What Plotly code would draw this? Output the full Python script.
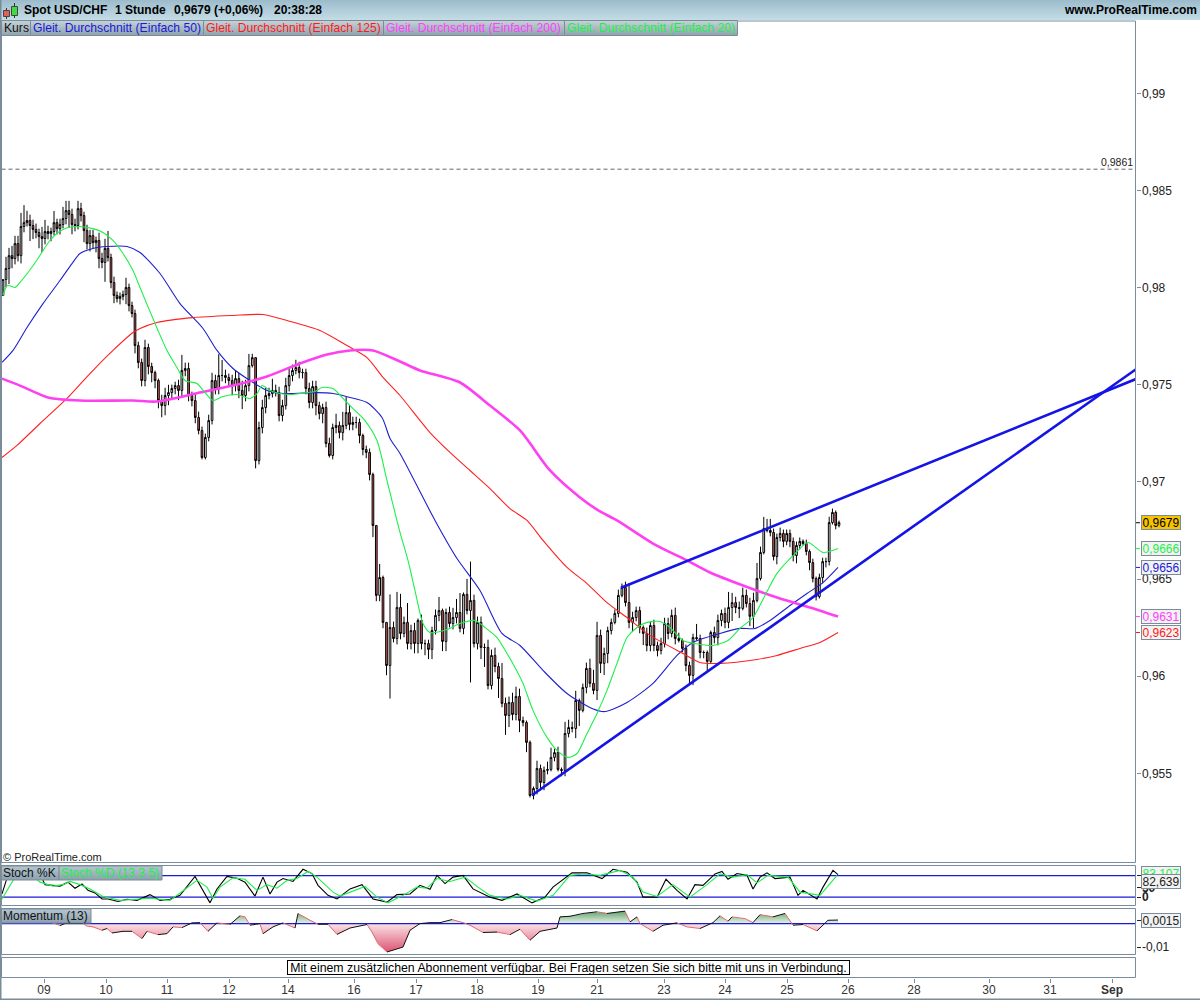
import numpy as np
import plotly.graph_objects as go

# ---- price data, in pips (price = pips / 10000) ----
first_open = 9796.0
close_a = [9804.2,9809.9,9816.5,9815,9822.7,9816.5,9831.5,9833.5,9834.6,9832,
           9830,9828.4,9826.3,9825.3,9828.9,9827.9,9828.9,9833.5,9830.4,9832.5,
           9835.6,9839.7,9837.7,9832.5,9832,9840.7,9837.1,9829.4,9822.7,9826.8,
           9823.2,9824.3,9815,9813,9820.2,9815.5,9802.7,9796,9794.4,9795.5,
           9796.5,9800.1,9790.8,9786.7,9770.2]
close_b = [9761.5,9752.2,9769.2,9759.4,9756.3,9752.2,9741.9,9739.3,9744.5,9746,
           9748.1,9749.6,9747.1,9757.4,9758.4,9744.5,9741.9,9733.2,9726.5,9712.6,
           9722.9,9731.6,9752.2,9748.1,9754.8,9754.8,9753.8,9752.2,9749.6,9753.2,
           9747.1,9744.5,9749.6,9759.9,9764,9711,9728,9738.3,9744.5,9745.5,
           9747.1,9746,9734.2,9739.3,9749.6,9754.8,9757.4,9758.9,9756.3,9756.3,
           9748.1,9740.9,9749.1,9739.3,9735.2,9738.3,9719.8,9713.6,9728,9729.1,
           9725.4,9729.1,9735.7,9729.6,9730.6,9730.6,9723.9,9716.7,9715.2,9703.8,
           9677.6,9641.6,9650.8,9627.7]
close_c = [9605.5,9625.1,9619.4,9635.4,9622,9627.7,9616.8,9623.5,9616.8,9628.7,
           9616.8,9616.8,9613.8,9623.5,9631.3,9633.8,9617.9,9632.8,9627.1,9630.2,
           9632.8,9624.6,9642.1,9633.8,9639,9616.8,9627.7,9614.8,9614.8,9595.2,
           9610.7,9605,9598.8,9586,9579.8,9586.5,9580.3,9589.6,9577.2,9576.2,
           9565.9,9538.6,9542.2,9552.5,9545.3,9551.5,9552,9558.2,9560.7,9552]
close_d = [9551.5,9570.5,9573.6,9573.1,9587.5,9582.4,9594.2,9604,9596.3,9592.7,
           9621,9606.6,9611.7,9623.5,9627.7,9632.3,9641.6,9645.7,9637.9,9627.7,
           9630.2,9633.8,9625.1,9622,9615.8,9626.1,9615.8,9613.2,9616.8,9627.1,
           9622,9631.3,9619.4,9618.4,9614.3,9605.5,9600.4,9619.9,9619.4,9612.2,
           9612.2,9607.6,9622.5,9619.9,9628.7,9632.3,9627.7,9635.4,9637.9,9635.4,
           9634.9,9641.6,9637.4,9630.8,9639,9650.3]
close_e = [9663.7,9676,9675,9674,9661.6,9671.4,9673.5,9669.4,9673.5,9669.4,
           9662.1,9667.3,9669.4,9668.3,9664.2,9658.5,9650.3,9641,9650.8,9659,
           9659,9679.1,9684.3,9677.6,9679.1]

# wick lengths above / below the body, in pips
upper_a = [0,6,4,5,4,4,7,9,5,3, 3,3,2,5,6,3,2,6,2,3, 6,5,5,3,3,4,3,2,3,3, 3,2,4,3,5,9,2,3,2,2, 2,5,2,2,2]
lower_a = [0,4,8,5,3,3,4,3,2,8, 5,3,6,7,3,3,4,2,3,3, 2,3,7,5,3,2,3,6,3,4, 3,5,5,3,10,2,3,4,2,3, 2,5,3,2,4]
upper_b = [2,2,4,2,2,1,1,3,4,4, 2,2,3,8,3,3,2,4,3,2, 2,3,4,3,11,8,3,2,3,4, 3,5,3,6,2,0,3,4,4,3,
           6,3,3,3,4,4,3,4,3,2, 2,3,3,3,2,2,3,3,2,6, 2,7,8,4,3,3,2,1,2,2, 1,0,7,1]
lower_b = [3,3,3,4,5,4,4,6,5,5, 3,3,5,3,3,3,3,3,2,1, 1,2,2,3,3,3,3,3,5,3, 4,7,3,3,1,4,2,3,3,2,
           2,2,3,3,2,3,3,2,3,3, 3,3,3,5,3,5,2,1,2,3, 3,4,2,3,3,3,4,3,3,3, 6,3,3,3]
upper_c = [0,17,3,8,7,3,10,3,4,1, 3,2,2,2,3,7,1,2,3,5, 7,10,1,8,20,3,3,3,2,4, 3,4,2,8,3,3,5,5,4,2, 1,1,1,4,2,2,4,5,2,3]
lower_c = [5,17,2,3,3,2,3,3,5,5, 3,6,5,5,2,3,5,5,2,3, 3,2,3,2,37,2,3,6,10,2, 2,3,10,2,10,6,3,3,6,2, 5,1,2,3,4,4,2,1,2,1]
upper_d = [1,6,4,3,5,1,2,3,5,7, 7,3,3,2,2,2,3,2,3,10, 3,2,2,1,3,2,3,2,3,3, 3,3,4,3,1,2,2,2,7,2, 1,1,1,3,3,2,3,8,5,3, 3,4,3,3,4,8]
lower_d = [3,3,2,2,5,8,1,3,2,2, 5,5,6,5,2,1,2,1,2,3, 5,2,3,6,3,3,3,3,2,2, 3,2,3,1,2,3,5,5,1,3, 3,5,1,3,4,3,3,3,7,3, 5,1,2,5,6,1]
upper_e = [3,6,5,6,2,2,3,2,2,2, 2,2,2,1,2,1,2,1,2,2, 2,3,2,1,1]
lower_e = [1,1,1,2,2,4,2,3,2,3, 3,4,2,1,2,4,2,2,1,3, 3,2,1,2,1]

# chart-time span of each block of candles (1 unit = 1/61.5 of a session)
block_spans = [(3,135),(138.3,383),(386.5,558),(561.5,757),(760.5,839)]

# moving averages (chart time, pips)
ma20_t = [3,7,10,15,20,28,38,43,50,58,68,80,93,103,113,123,133,140,158,167,177,185,197,205,213,223,237,250,257,262,270,280,293,307,315,322,333,343,353,365,377,387,400,408,415,423,430,447,460,475,485,497,507,515,523,533,547,557,568,577,587,597,607,617,627,637,647,660,670,683,695,713,728,740,753,765,777,793,808,823,838]
ma20_v = [9796,9801,9801,9800.1,9802.7,9807.8,9815,9819.1,9824.3,9828.4,9831,9831.5,9830.4,9828.4,9824.3,9817.6,9808.8,9800.1,9778,9767.7,9758.9,9752.2,9750.7,9746,9741.9,9744,9745,9743,9745.5,9749.6,9747.1,9745.5,9745,9746,9746.6,9748.6,9748.1,9743,9737.8,9731.6,9721.3,9700.7,9674,9659.6,9644.1,9627.1,9622.5,9624,9627.1,9628.7,9625.1,9619.9,9611.7,9604.5,9596.3,9582.4,9568.5,9561.8,9558.2,9560.2,9570.5,9580.8,9592.7,9606.6,9619.9,9625.1,9627.7,9628.2,9625.1,9618.4,9616.8,9615.8,9618.4,9624.6,9630.2,9641.6,9652.9,9662.1,9668.8,9663.7,9665.7]
ma50_t = [2,13,27,43,60,72,80,93,107,127,140,160,180,203,217,233,250,267,283,317,333,350,367,382,390,400,435,457,480,502,520,543,567,592,605,627,653,677,693,720,740,755,770,790,807,823,838]
ma50_v = [9761.5,9767.7,9779.5,9791.8,9803.7,9812.4,9817.6,9820.2,9821.2,9821.2,9818.1,9807.3,9791.8,9779,9767.7,9758.4,9752.2,9747.1,9745.5,9746,9745.5,9743.5,9740.9,9733.2,9722.4,9714.6,9680.2,9660.6,9644.1,9622,9615.8,9603,9591.1,9583.4,9581.8,9586.5,9596.3,9610.7,9617.4,9622,9624.6,9624.6,9628.7,9636.4,9642.6,9648.2,9656]
ma125_t = [2,17,40,67,90,113,133,140,157,193,233,263,287,320,347,367,383,400,430,450,470,490,510,527,543,567,587,607,627,650,683,700,720,757,777,800,820,838]
ma125_v = [9712.6,9718.8,9730.1,9743,9755.8,9767.7,9776.9,9779,9782.1,9784.6,9785.7,9786.2,9783.1,9778,9770.2,9764,9753.8,9744.5,9725.4,9715.2,9705.9,9696.6,9686.3,9680.2,9669.9,9656,9647.7,9637.9,9630.2,9621,9611.7,9607.1,9606.6,9608.6,9610.7,9614.3,9617.4,9622.5]
ma200_t = [2,20,48,80,133,157,200,233,267,300,327,350,373,400,420,460,490,520,550,580,600,617,653,687,710,743,777,810,838]
ma200_v = [9753.2,9749.6,9743.5,9741.9,9741.9,9741.4,9746,9749.6,9754.3,9761,9765.6,9767.7,9767.7,9762,9757.4,9751.2,9739.3,9726.5,9705.9,9692,9684.8,9680.2,9668.3,9659.6,9653.4,9646.7,9640.5,9635.4,9630.7]

# trend lines and reference level
trend_upper_t, trend_upper_v = [621,1136], [9645.5,9753]
trend_lower_t, trend_lower_v = [532,1136], [9538.7,9758]
level_value = 0.9861

# stochastic (chart time, percent)
stoch_k_t = [2,5,10,30,40,45,60,68,75,82,88,95,102,108,118,127,137,150,160,170,180,195,203,210,217,227,237,245,255,263,270,277,283,293,303,312,318,328,337,350,362,373,387,397,410,420,430,437,445,453,463,473,490,502,517,532,545,553,572,587,602,613,627,637,643,657,666,677,687,695,703,715,722,728,737,747,753,760,767,775,790,798,803,817,823,833,838]
stoch_k_v = [29,57,100,95,85,55,51,62,45,57,39,32,15,15,8,14,11,27,11,14,25,78,39,4,43,78,73,62,23,76,29,62,72,64,98,86,53,25,15,43,55,15,6,27,29,53,42,81,58,76,81,43,20,11,29,4,20,48,88,88,72,98,90,62,20,20,70,39,15,55,53,85,92,70,86,81,43,76,88,72,76,25,39,15,48,95,83]
stoch_d_t = [2,10,15,25,40,53,63,70,80,90,103,120,137,150,170,183,197,207,213,220,233,245,257,267,277,287,297,308,317,333,340,365,377,388,403,417,427,437,450,465,478,490,507,520,537,553,570,583,600,620,633,643,657,673,690,707,720,733,747,757,768,788,800,820,837]
stoch_d_v = [15,53,76,100,62,51,55,64,55,43,22,11,15,17,11,39,67,48,17,48,74,70,39,55,45,67,72,92,76,34,23,50,20,4,25,48,45,72,64,76,48,25,15,25,9,25,81,85,81,95,76,34,22,55,20,55,85,76,83,60,81,76,34,25,81]

# momentum (chart time, thousandths)
momentum_t = [2,20,40,55,60,65,83,87,93,102,107,112,123,132,142,147,158,167,173,182,192,200,208,217,230,240,245,250,260,263,273,283,295,298,310,318,328,337,350,367,372,378,387,403,410,420,430,440,452,463,470,483,497,510,520,530,540,557,560,570,583,597,607,625,630,637,640,653,663,677,687,700,713,720,728,732,745,753,760,773,785,793,803,817,828,838]
momentum_m = [3,4,2,0,-.85,0,0,-1.1,-1.4,-2.85,-2.1,-4,-3.3,-3.3,-6.4,-3.3,-4.7,-4.3,-1.4,-1.7,.3,.4,-3.3,.3,-.4,3.3,2.85,-.7,0,-4.3,-1.4,.3,-1.9,4.3,1.4,-.3,-.3,-4.6,-1.9,-.4,-3.6,-8.6,-12.1,-10,-2.85,0,.4,.4,1.7,.4,-.7,-3.8,-3.6,-4.7,-2.4,-7.1,-3.3,-1.9,2.85,3.1,4.3,5,4.3,5.3,.7,2.85,0,-3.3,-.7,.3,-1.4,-2.1,.4,3.3,1,2.85,2.1,.4,3.8,2.85,4.3,-.7,-.4,-3.1,1.4,1.5]

# axes
x_tick_vals = [44,106,167,229,288,354,416,477,538,597,664,725,787,848,914,989,1050,1112]
x_tick_text = ["09","10","11","12","14","16","17","18","19","21","23","24","25","26","28","30","31","<b>Sep</b>"]
price_tick_vals = [0.955,0.96,0.965,0.97,0.975,0.98,0.985,0.99]
price_tick_text = ["0,955","0,96","0,965","0,97","0,975","0,98","0,985","0,99"]

# right-hand value labels: text, price, text colour, background
price_tags = [("0,9679",0.9679,"#000000","#f7c300"),
              ("0,9666",0.96657,"#1cf04a","#f2f2f2"),
              ("0,9656",0.9656,"#1a1ad8","#f2f2f2"),
              ("0,9631",0.96307,"#ff40ff","#f2f2f2"),
              ("0,9623",0.96225,"#ff1a1a","#f2f2f2")]
legend_main = [("Kurs",1.5,30.5,"#111111"),
               ("Gleit. Durchschnitt (Einfach 50)",30.5,203.5,"#1a1ad8"),
               ("Gleit. Durchschnitt (Einfach 125)",203.5,383.5,"#ff1a1a"),
               ("Gleit. Durchschnitt (Einfach 200)",383.5,564.5,"#ff40ff"),
               ("Gleit. Durchschnitt (Einfach 20)",564.5,737.5,"#1cf04a")]
notice = "Mit einem zusätzlichen Abonnement verfügbar. Bei Fragen setzen Sie sich bitte mit uns in Verbindung."

# ---- assemble ----
closes = close_a + close_b + close_c + close_d + close_e
uppers = upper_a + upper_b + upper_c + upper_d + upper_e
lowers = lower_a + lower_b + lower_c + lower_d + lower_e
blocks = [close_a, close_b, close_c, close_d, close_e]
assert len(closes) == len(uppers) == len(lowers), (len(closes), len(uppers), len(lowers))
bar_t = np.concatenate([np.linspace(a, b, len(c)) for (a, b), c in zip(block_spans, blocks)])
c = np.array(closes)
o = np.concatenate([[first_open], c[:-1]])
h = np.maximum(o, c) + np.array(uppers)
l = np.minimum(o, c) - np.array(lowers)

FONT = "Liberation Sans"
FRAME = "#7a8c99"

def xp(px):
    return px / 1200
def yp(py):
    return 1 - py / 1000

fig = go.Figure()
fig.add_trace(go.Candlestick(
    x=bar_t, open=o/1e4, high=h/1e4, low=l/1e4, close=c/1e4,
    whiskerwidth=0,
    increasing=dict(fillcolor="#ffffff", line=dict(color="#000000", width=1)),
    decreasing=dict(fillcolor="#e2605c", line=dict(color="#000000", width=1)),
    xaxis="x", yaxis="y", hoverinfo="skip"))

for t, v, col, w in [(ma50_t, ma50_v, "#2020d0", 1.1),
                     (ma125_t, ma125_v, "#ff2020", 1.1),
                     (ma200_t, ma200_v, "#ff40f0", 2.6),
                     (ma20_t, ma20_v, "#1cf04a", 1.1)]:
    fig.add_trace(go.Scatter(x=t, y=np.array(v)/1e4, mode="lines",
                             line=dict(color=col, width=w, shape="spline", smoothing=0.7),
                             hoverinfo="skip"))
for t, v in [(trend_upper_t, trend_upper_v), (trend_lower_t, trend_lower_v)]:
    fig.add_trace(go.Scatter(x=t, y=np.array(v)/1e4, mode="lines",
                             line=dict(color="#1414e6", width=2.6), hoverinfo="skip"))
fig.add_trace(go.Scatter(x=[1.5, 1135.5], y=[level_value]*2, mode="lines",
                         line=dict(color="#666666", width=1, dash="4px,3px"), hoverinfo="skip"))

# stochastic panel
for val in (80, 20):
    fig.add_trace(go.Scatter(x=[1.5, 1135.5], y=[val, val], mode="lines", yaxis="y2",
                             line=dict(color="#1a1ad8", width=1.2), hoverinfo="skip"))
fig.add_trace(go.Scatter(x=stoch_k_t, y=stoch_k_v, mode="lines", yaxis="y2",
                         line=dict(color="#000000", width=1.1), hoverinfo="skip"))
fig.add_trace(go.Scatter(x=stoch_d_t, y=stoch_d_v, mode="lines", yaxis="y2",
                         line=dict(color="#1cf04a", width=1.1), hoverinfo="skip"))

# momentum panel
mom = np.array(momentum_m) / 1000
grid = np.arange(momentum_t[0], momentum_t[-1] + 0.5, 1.0)
fine = np.interp(grid, momentum_t, mom)
fig.add_trace(go.Scatter(x=grid, y=np.minimum(fine, 0), mode="lines", yaxis="y3",
                         line=dict(width=0), fill="tozeroy", hoverinfo="skip",
                         fillgradient=dict(type="vertical", start=-0.0125, stop=0,
                                           colorscale=[[0, "#dc4f70"], [1, "#fbe3e6"]])))
fig.add_trace(go.Scatter(x=grid, y=np.maximum(fine, 0), mode="lines", yaxis="y3",
                         line=dict(width=0), fill="tozeroy", hoverinfo="skip",
                         fillgradient=dict(type="vertical", start=0, stop=0.0055,
                                           colorscale=[[0, "#e8f3e8"], [1, "#5f9f6a"]])))
fig.add_trace(go.Scatter(x=[1.5, 1135.5], y=[0, 0], mode="lines", yaxis="y3",
                         line=dict(color="#1a1ad8", width=1.2), hoverinfo="skip"))
rx, ry, fx, fy = [], [], [], []
for i in range(len(mom) - 1):
    tgt_x, tgt_y = (rx, ry) if mom[i+1] >= mom[i] else (fx, fy)
    tgt_x += [momentum_t[i], momentum_t[i+1], None]
    tgt_y += [mom[i], mom[i+1], None]
fig.add_trace(go.Scatter(x=fx, y=fy, mode="lines", yaxis="y3",
                         line=dict(color="#e06a6a", width=1), hoverinfo="skip"))
fig.add_trace(go.Scatter(x=rx, y=ry, mode="lines", yaxis="y3",
                         line=dict(color="#111111", width=1), hoverinfo="skip"))
# the bottom panel holds the shared time axis
fig.add_trace(go.Scatter(x=[1.5], y=[0.5], mode="markers", yaxis="y4",
                         marker=dict(opacity=0), hoverinfo="skip"))

# ---- shapes ----
shapes = []
def rect(x0, y0, x1, y1, fill=None, line=None, lw=1, layer="above"):
    shapes.append(dict(type="rect", xref="paper", yref="paper",
                       x0=xp(x0), x1=xp(x1), y0=yp(y0), y1=yp(y1),
                       fillcolor=fill or "rgba(0,0,0,0)", layer=layer,
                       line=dict(color=line or "rgba(0,0,0,0)", width=lw if line else 0)))

def lerp(c0, c1, f):
    a = [int(c0[i:i+2], 16) for i in (1, 3, 5)]
    b = [int(c1[i:i+2], 16) for i in (1, 3, 5)]
    return "rgb(%d,%d,%d)" % tuple(round(p + (q - p) * f) for p, q in zip(a, b))

def gradient_box(x0, y0, x1, y1, top, bottom, border=None):
    n = int(y1 - y0)
    for k in range(n):
        rect(x0, y0 + k, x1, y0 + k + 1, fill=lerp(top, bottom, k / max(n - 1, 1)))
    if border:
        rect(x0, y0, x1, y1, line=border)

# panel frames
rect(1.5, 21, 1135.5, 862.5, line=FRAME, layer="above")
rect(1.5, 865.5, 1135.5, 905.5, line=FRAME)
rect(1.5, 908.5, 1135.5, 954.5, line=FRAME)
rect(1.5, 957.5, 1135.5, 977.5, line=FRAME)
# header
gradient_box(0, 0, 1200, 20, "#9dbccb", "#c3dce6")
gradient_box(1.5, 20, 737.5, 35.5, "#c6d3d9", "#93a6b0")
for label, x0, x1, col in legend_main:
    rect(x0, 20.5, x1, 35.5, line=FRAME)
gradient_box(1.5, 866, 59, 880, "#b3c5cf", "#8da2af", FRAME)
gradient_box(59, 866, 162, 880, "#b3c5cf", "#8da2af", FRAME)
gradient_box(1.5, 909, 91, 923, "#b3c5cf", "#8da2af", FRAME)
# window frame
rect(0, 0, 1.5, 1000, fill=FRAME)
rect(0, 998.5, 1200, 1000, fill=FRAME)
# logo
shapes.append(dict(type="line", xref="paper", yref="paper", x0=xp(6.5), x1=xp(6.5), y0=yp(8), y1=yp(19), line=dict(color="#333333", width=1)))
shapes.append(dict(type="line", xref="paper", yref="paper", x0=xp(14.5), x1=xp(14.5), y0=yp(3), y1=yp(18), line=dict(color="#333333", width=1)))
rect(3.5, 10.5, 9.5, 16.5, fill="#e2605c", line="#444444")
rect(11.5, 6.5, 17.5, 15.5, fill="#3fdc3f", line="#444444")
# coloured tick stubs beside the value labels
for label, val, col, bg in price_tags:
    shapes.append(dict(type="line", xref="paper", yref="y", x0=xp(1136), x1=xp(1140),
                       y0=val, y1=val, line=dict(color=col, width=1)))

# ---- annotations ----
ann = []
def text(px, py, s, size=12, color="#000000", anchor="left", **kw):
    ann.append(dict(x=xp(px), y=yp(py), xref="paper", yref="paper", text=s, showarrow=False,
                    xanchor=anchor, yanchor="middle", align="left",
                    font=dict(family=FONT, size=size, color=color), **kw))

text(21.5, 10.5, "<b>Spot USD/CHF</b>")
text(113, 10.5, "<b>1 Stunde</b>")
text(171.5, 10.5, "<b>0,9679 (+0,06%)</b>")
text(271.5, 10.5, "<b>20:38:28</b>")
text(1199, 10.5, "<b>www.ProRealTime.com</b>", anchor="right")
for label, x0, x1, col in legend_main:
    text(x0, 28, label, color=col, size=12.15)
text(0.5, 856.5, "© ProRealTime.com", size=11, color="#222222")
text(0.5, 873, "Stoch %K", color="#111111")
text(58.5, 873, "Stoch %D (13 3 5)", color="#1cf04a")
text(0.5, 916, "Momentum (13)", color="#111111")
ann.append(dict(x=xp(568.5), y=yp(967.5), xref="paper", yref="paper", text=notice, showarrow=False,
                xanchor="center", yanchor="middle", width=561, height=13, align="center",
                bgcolor="#ffffff", bordercolor="#000000", borderwidth=1, borderpad=0,
                font=dict(family=FONT, size=12.3, color="#000000")))
text(1117, 162, "0,9861", size=10.5, color="#222222", anchor="center")

def tag(py, s, color, bg):
    ann.append(dict(x=xp(1161), y=yp(py), xref="paper", yref="paper", text=s, showarrow=False,
                    xanchor="center", yanchor="middle", width=38, height=13, align="center",
                    bgcolor=bg, bordercolor=FRAME, borderwidth=1, borderpad=0,
                    font=dict(family=FONT, size=12, color=color)))

for label, val, col, bg in price_tags:
    ann.append(dict(x=xp(1161), y=val, xref="paper", yref="y", text=label, showarrow=False,
                    xanchor="center", yanchor="middle", width=38, height=13, align="center",
                    bgcolor=bg, bordercolor=FRAME, borderwidth=1, borderpad=0,
                    font=dict(family=FONT, size=12, color=col)))
tag(873, "83,107", "#1cf04a", "#f2f2f2")
tag(881, "82,639", "#222222", "#f2f2f2")
tag(920, "0,0015", "#222222", "#f2f2f2")

axis_common = dict(showgrid=False, zeroline=False, showline=False)
fig.update_layout(
    width=1200, height=1000, autosize=False,
    margin=dict(l=0, r=0, t=0, b=0, pad=0),
    paper_bgcolor="#ffffff", plot_bgcolor="#ffffff",
    showlegend=False, hovermode=False, dragmode=False, boxgap=0.2,
    font=dict(family=FONT, size=12, color="#222222"),
    shapes=shapes, annotations=ann,
    xaxis=dict(domain=[xp(1.5), xp(1135.5)], range=[1.5, 1135.5], anchor="y4",
               rangeslider=dict(visible=False), tickmode="array",
               tickvals=x_tick_vals, ticktext=x_tick_text, ticks="outside", ticklen=4,
               ticklabelstandoff=-3,
               tickcolor=FRAME, tickfont=dict(family=FONT, size=12, color="#333333"),
               **axis_common),
    yaxis=dict(domain=[yp(862.5), yp(20)], range=[0.95041, 0.99378], anchor="x", side="right",
               tickmode="array", tickvals=price_tick_vals, ticktext=price_tick_text,
               ticks="outside", ticklen=4, tickcolor=FRAME, ticklabelstandoff=-1,
               tickfont=dict(family=FONT, size=12, color="#222222"), **axis_common),
    yaxis2=dict(domain=[yp(905.5), yp(865.5)], range=[-3.4, 108.6], anchor="x", side="right",
                tickmode="array", tickvals=[80, 47, 20], ticktext=["", "<b>50</b>", "<b>0</b>"],
                ticks="outside", ticklen=4, tickcolor="#222222", ticklabelstandoff=-1,
                tickfont=dict(family=FONT, size=12, color="#222222"), **axis_common),
    yaxis3=dict(domain=[yp(954.5), yp(908.5)], range=[-0.01316, 0.00641], anchor="x", side="right",
                tickmode="array", tickvals=[0.0013, -0.01], ticktext=["", "-0,01"],
                ticks="outside", ticklen=4, tickcolor="#222222", ticklabelstandoff=-1,
                tickfont=dict(family=FONT, size=12, color="#222222"), **axis_common),
    yaxis4=dict(domain=[yp(977.5), yp(957.5)], range=[0, 1], anchor="x", side="right",
                showticklabels=False, ticks="", **axis_common),
)

fig.write_html("out.html", config={"displayModeBar": False},
               post_script="document.body.style.margin='0';document.documentElement.style.overflow='hidden';")
